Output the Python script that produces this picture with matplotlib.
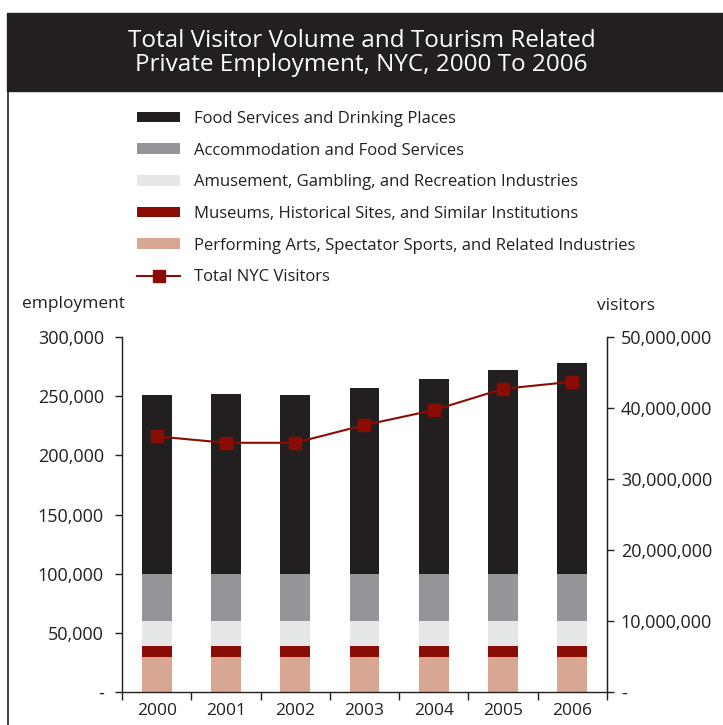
import matplotlib
matplotlib.use("Agg")
import matplotlib.pyplot as plt
from matplotlib.patches import Rectangle, Patch
from matplotlib.lines import Line2D
from matplotlib.ticker import FuncFormatter, FixedLocator

anos = ["2000", "2001", "2002", "2003", "2004", "2005", "2006"]
artes = [30000, 30000, 30000, 30000, 30000, 30000, 30000]
museus = [9000, 9000, 9000, 9000, 9000, 9000, 9000]
diversao = [21000, 21000, 21000, 21000, 21000, 21000, 21000]
hospedagem = [40000, 40000, 40000, 40000, 40000, 40000, 40000]
comida = [151000, 152000, 151000, 157000, 164500, 172000, 178000]
visitantes = [36000000, 35100000, 35100000, 37600000, 39700000, 42700000, 43700000]

series = [
    ("Performing Arts, Spectator Sports, and Related Industries", artes, "#d8a794"),
    ("Museums, Historical Sites, and Similar Institutions", museus, "#8b0c04"),
    ("Amusement, Gambling, and Recreation Industries", diversao, "#e6e7e8"),
    ("Accommodation and Food Services", hospedagem, "#939598"),
    ("Food Services and Drinking Places", comida, "#231f20"),
]
cor_linha = "#8b0c04"
cor_texto = "#231f20"

plt.rcParams["font.family"] = ["Open Sans", "DejaVu Sans"]

fig = plt.figure(figsize=(7.23, 7.25), dpi=100)

# faixa do titulo
fig.patches.append(Rectangle((7 / 723, 1 - 91 / 725), 716 / 723, 78 / 725,
                             transform=fig.transFigure, color="#231f20", zorder=0))
fig.text(0.5, 1 - 53 / 725, "Total Visitor Volume and Tourism Related\nPrivate Employment, NYC, 2000 To 2006",
         ha="center", va="center", color="white", fontsize=17.5, linespacing=1.05)
fig.lines.append(Line2D([8 / 723, 8 / 723], [0, 1 - 91 / 725], transform=fig.transFigure,
                        color=cor_texto, lw=1.2))

ax = fig.add_axes([122 / 723, 1 - 692 / 725, 485 / 723, 355 / 725])
x = list(range(len(anos)))
base = [0] * len(anos)
for nome, vals, cor in series:
    ax.bar(x, vals, width=0.43, bottom=base, color=cor, zorder=2)
    base = [b + v for b, v in zip(base, vals)]

ax.set_xlim(-0.5, 6.5)
ax.set_ylim(0, 300000)
ax.set_yticks([0, 50000, 100000, 150000, 200000, 250000, 300000])
ax.yaxis.set_major_formatter(FuncFormatter(lambda v, p: "-" if v == 0 else f"{int(v):,}"))
ax.set_xticks(x)
ax.set_xticklabels(anos)
ax.xaxis.set_minor_locator(FixedLocator([i - 0.5 for i in range(len(anos) + 1)]))
ax.tick_params(axis="x", which="major", length=0, pad=8, labelsize=12.5, colors=cor_texto)
ax.tick_params(axis="x", which="minor", length=6, width=1, direction="out", color=cor_texto)
ax.tick_params(axis="y", length=5, width=1, pad=8, labelsize=13, colors=cor_texto)
ax.spines["top"].set_visible(False)
for lado in ["left", "right", "bottom"]:
    ax.spines[lado].set_color(cor_texto)
    ax.spines[lado].set_linewidth(1)

ax2 = ax.twinx()
ax2.plot(x, visitantes, color=cor_linha, lw=1.5, marker="s", markersize=9, zorder=3)
ax2.set_ylim(0, 50000000)
ax2.set_yticks([0, 10000000, 20000000, 30000000, 40000000, 50000000])
ax2.yaxis.set_major_formatter(FuncFormatter(lambda v, p: "-" if v == 0 else f"{int(v):,}"))
ax2.tick_params(axis="y", length=5, width=1, pad=5, labelsize=13, colors=cor_texto)
ax2.spines["top"].set_visible(False)
ax2.spines["left"].set_visible(False)
ax2.spines["bottom"].set_visible(False)
ax2.spines["right"].set_color(cor_texto)

fig.text(22 / 723, 1 - 304 / 725, "employment", ha="left", va="center", fontsize=12.5, color=cor_texto)
fig.text(597 / 723, 1 - 306 / 725, "visitors", ha="left", va="center", fontsize=12.5, color=cor_texto)

# legenda
handles = [Patch(facecolor=cor, edgecolor="none") for _, _, cor in series[::-1]]
labels = [nome for nome, _, _ in series[::-1]]
handles.append(Line2D([], [], color=cor_linha, lw=1.5, marker="s", markersize=9))
labels.append("Total NYC Visitors")
fig.legend(handles, labels, loc="upper left", bbox_to_anchor=(137 / 723, 1 - 111 / 725),
           frameon=False, fontsize=12, handlelength=2.6, handleheight=0.6, borderpad=0,
           borderaxespad=0, labelspacing=0.94, handletextpad=0.85, labelcolor=cor_texto)

fig.savefig("out.png", dpi=100)
